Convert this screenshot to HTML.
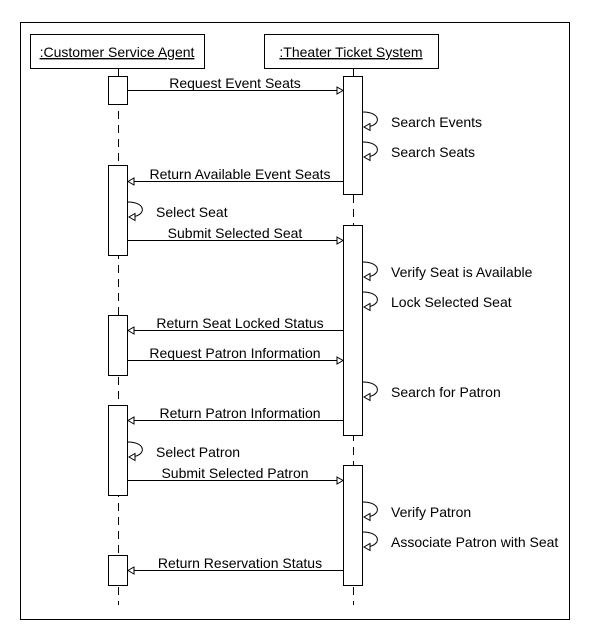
<!DOCTYPE html>
<html><head><meta charset="utf-8"><style>
html,body{margin:0;padding:0;background:#fff;width:590px;height:640px;overflow:hidden}
text{font-family:"Liberation Sans",Arial,sans-serif;font-size:14px;fill:#000}
</style></head><body>
<svg width="590" height="640" viewBox="0 0 590 640" xmlns="http://www.w3.org/2000/svg">
<defs>
<marker id="a" markerWidth="10" markerHeight="10" refX="7" refY="5" orient="auto" markerUnits="userSpaceOnUse">
<path d="M1,1.5 L7,5 L1,8.5 Z" fill="#fff" stroke="#000" stroke-width="1"/></marker>
</defs>
<g shape-rendering="crispEdges" stroke="#000" fill="#fff">
<rect x="20.5" y="22.5" width="549" height="597"/>
<rect x="30.5" y="34.5" width="174" height="34"/>
<rect x="264.5" y="34.5" width="174" height="34"/>
<line x1="118.5" y1="69" x2="118.5" y2="605" stroke-dasharray="8,6"/>
<line x1="353.5" y1="69" x2="353.5" y2="605" stroke-dasharray="8,6"/>
<rect x="108.5" y="76.5" width="19" height="28"/>
<rect x="108.5" y="165.5" width="19" height="90"/>
<rect x="108.5" y="315.5" width="19" height="60"/>
<rect x="108.5" y="405.5" width="19" height="90"/>
<rect x="108.5" y="555.5" width="19" height="30"/>
<rect x="343.5" y="76.5" width="19" height="118"/>
<rect x="343.5" y="225.5" width="19" height="210"/>
<rect x="343.5" y="465.5" width="19" height="120"/>
</g>
<text x="117" y="57" text-anchor="middle" text-decoration="underline">:Customer Service Agent</text>
<text x="351" y="57" text-anchor="middle" text-decoration="underline">:Theater Ticket System</text>
<g stroke="#000" fill="none" marker-end="url(#a)">
<line x1="128" y1="90.5" x2="343" y2="90.5"/>
<line x1="343" y1="181.5" x2="128" y2="181.5"/>
<line x1="128" y1="240.5" x2="343" y2="240.5"/>
<line x1="343" y1="330.5" x2="128" y2="330.5"/>
<line x1="128" y1="360.5" x2="343" y2="360.5"/>
<line x1="343" y1="420.5" x2="128" y2="420.5"/>
<line x1="128" y1="480.5" x2="343" y2="480.5"/>
<line x1="343" y1="570.5" x2="128" y2="570.5"/>
<path d="M363,112 C382,112 382,127 364,127"/>
<path d="M363,142 C382,142 382,157 364,157"/>
<path d="M128,202 C147,202 147,217 129,217"/>
<path d="M363,262 C382,262 382,277 364,277"/>
<path d="M363,292 C382,292 382,307 364,307"/>
<path d="M363,382 C382,382 382,397 364,397"/>
<path d="M128,442 C147,442 147,457 129,457"/>
<path d="M363,502 C382,502 382,517 364,517"/>
<path d="M363,532 C382,532 382,547 364,547"/>
</g>
<g text-anchor="middle">
<text x="235" y="88">Request Event Seats</text>
<text x="240" y="179">Return Available Event Seats</text>
<text x="235" y="238">Submit Selected Seat</text>
<text x="240" y="328">Return Seat Locked Status</text>
<text x="235" y="358">Request Patron Information</text>
<text x="240" y="418">Return Patron Information</text>
<text x="235" y="478">Submit Selected Patron</text>
<text x="240" y="568">Return Reservation Status</text>
</g>
<text x="391" y="127">Search Events</text>
<text x="391" y="157">Search Seats</text>
<text x="156" y="217">Select Seat</text>
<text x="391" y="277">Verify Seat is Available</text>
<text x="391" y="307">Lock Selected Seat</text>
<text x="391" y="397">Search for Patron</text>
<text x="156" y="457">Select Patron</text>
<text x="391" y="517">Verify Patron</text>
<text x="391" y="547">Associate Patron with Seat</text>
</svg>
</body></html>
